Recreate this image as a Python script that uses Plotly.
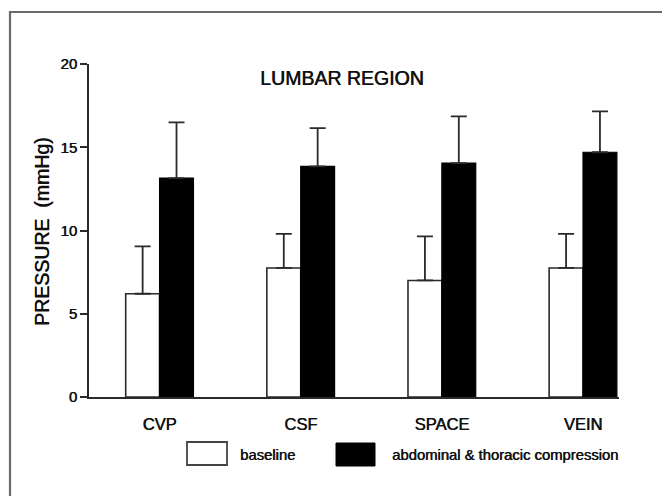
import plotly.graph_objects as go

categories = ["CVP", "CSF", "SPACE", "VEIN"]
baseline = [6.2, 7.75, 7.0, 7.75]
baseline_err = [2.85, 2.05, 2.65, 2.05]
compression = [13.15, 13.85, 14.05, 14.7]
compression_err = [3.35, 2.3, 2.8, 2.45]
y_ticks = [0, 5, 10, 15, 20]
series_names = ["baseline", "abdominal & thoracic compression"]

# page offset from default body margin
OFF = 8
W, H = 654, 488
PL, PT, PW, PH = 89, 64, 530, 333   # plot area in page pixels
L, T = PL - OFF, PT - OFF
R, B = W - L - PW, H - T - PH

def px(x):
    return (x - PL) / PW

def py(y):
    return (PT + PH - y) / PH

FONT = "Liberation Sans, Arial, Helvetica, sans-serif"
INK = "#111111"
LINE = "#2a2a2a"
SHADOW = "0.6px 0px 0px #111111"

def f(size):
    return dict(size=size, color=INK, family=FONT, shadow=SHADOW)

fig = go.Figure()
fig.add_trace(go.Bar(
    x=categories, y=baseline, name=series_names[0],
    marker=dict(color="white", line=dict(color=LINE, width=1.6)),
    error_y=dict(type="data", array=baseline_err, symmetric=False,
                 arrayminus=[0] * len(baseline_err),
                 color=LINE, thickness=1.8, width=8),
    showlegend=False,
))
fig.add_trace(go.Bar(
    x=categories, y=compression, name=series_names[1],
    marker=dict(color="black", line=dict(color="black", width=1.2)),
    error_y=dict(type="data", array=compression_err, symmetric=False,
                 arrayminus=[0] * len(compression_err),
                 color=LINE, thickness=1.8, width=8),
    showlegend=False,
))

fig.update_layout(
    width=W, height=H,
    margin=dict(l=L, r=R, t=T, b=B, pad=0),
    paper_bgcolor="white", plot_bgcolor="white",
    barmode="group", bargap=0.52, bargroupgap=0,
    font=dict(family=FONT, color=INK),
)
fig.update_xaxes(
    range=[-0.5, 3.255], showline=True, linecolor=LINE, linewidth=2,
    showgrid=False, zeroline=False, ticks="",
    tickfont=f(16.5), ticklabelstandoff=11,
)
fig.update_yaxes(
    range=[0, 20], tickvals=y_ticks, ticktext=[str(v) for v in y_ticks],
    showline=True, linecolor=LINE, linewidth=2,
    ticks="outside", ticklen=7, tickwidth=2, tickcolor=LINE,
    showgrid=False, zeroline=False,
    tickfont=f(15),
)

annotations = [
    dict(text="LUMBAR REGION", x=px(341.5), y=py(78), xref="paper", yref="paper",
         xanchor="center", yanchor="middle", showarrow=False, font=f(19.5)),
    dict(text="PRESSURE  (mmHg)", x=px(42), y=py(232), xref="paper", yref="paper",
         xanchor="center", yanchor="middle", showarrow=False, textangle=-90,
         font=f(19.5)),
    dict(text=series_names[0], x=px(238), y=py(455), xref="paper", yref="paper",
         xanchor="left", yanchor="middle", showarrow=False, font=f(14.8)),
    dict(text=series_names[1], x=px(390), y=py(455), xref="paper", yref="paper",
         xanchor="left", yanchor="middle", showarrow=False, font=f(14.8)),
]
fig.update_layout(annotations=annotations)

shapes = [
    # legend swatches
    dict(type="rect", xref="paper", yref="paper",
         x0=px(187), x1=px(227), y0=py(465), y1=py(442),
         fillcolor="white", line=dict(color="#444", width=1.8)),
    dict(type="rect", xref="paper", yref="paper",
         x0=px(336), x1=px(375), y0=py(466), y1=py(443),
         fillcolor="black", line=dict(color="black", width=1)),
    # outer frame (left and top edges only visible)
    dict(type="path", xref="paper", yref="paper",
         path=f"M {px(10)},{py(540)} L {px(10)},{py(12)} L {px(720)},{py(12)}",
         line=dict(color="#6a6a6a", width=2.2)),
]
fig.update_layout(shapes=shapes)

fig.write_html("out.html")
